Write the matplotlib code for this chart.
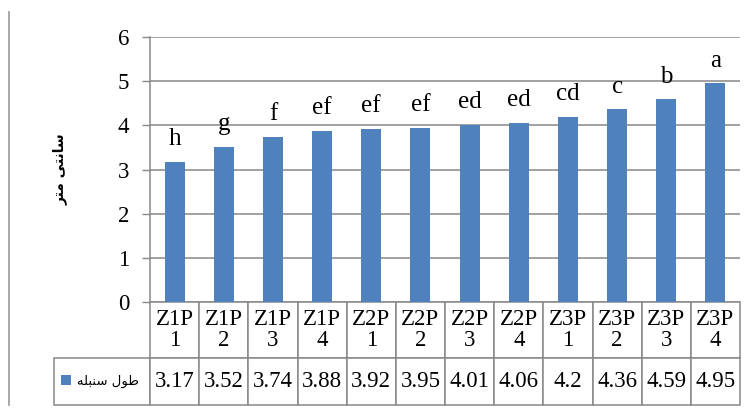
import matplotlib.pyplot as plt
from matplotlib.lines import Line2D
from matplotlib.patches import Patch

# data
categories = ['Z1P\n1', 'Z1P\n2', 'Z1P\n3', 'Z1P\n4', 'Z2P\n1', 'Z2P\n2',
              'Z2P\n3', 'Z2P\n4', 'Z3P\n1', 'Z3P\n2', 'Z3P\n3', 'Z3P\n4']
values = [3.17, 3.52, 3.74, 3.88, 3.92, 3.95, 4.01, 4.06, 4.2, 4.36, 4.59, 4.95]
letters = ['h', 'g', 'f', 'ef', 'ef', 'ef', 'ed', 'ed', 'cd', 'c', 'b', 'a']
yticks = [0, 1, 2, 3, 4, 5, 6]
# Persian text already shaped (presentation forms, visual order)
series_name = '\ufeea\ufee0\ufe92\ufee8\ufeb3 \ufedd\ufeee\ufec3'   # طول سنبله
y_label = '\ufeae\ufe98\ufee3 \ufef0\ufe98\ufee7\ufe8e\ufeb3'       # سانتی متر

bar_color = '#4F81BD'
line_color = '#888888'
serif = ['Liberation Serif', 'DejaVu Serif']

fig = plt.figure(figsize=(7.56, 4.12), dpi=100)
ax = fig.add_axes([150/756, 110/412, 590/756, 265/412])

x = range(len(values))
ax.bar(x, values, width=0.41, color=bar_color, zorder=3)
ax.set_xlim(-0.5, len(values) - 0.5)
ax.set_ylim(0, 6)
ax.set_yticks(yticks)
ax.set_yticklabels([str(t) for t in yticks], family=serif, fontsize=16.5)
ax.set_xticks([])
ax.tick_params(axis='y', length=6, width=1, color=line_color, pad=9)
ax.grid(axis='y', color=line_color, lw=1.1, zorder=0)
for s in ['top', 'right', 'bottom']:
    ax.spines[s].set_visible(False)
ax.spines['left'].set_color(line_color)
ax.spines['left'].set_linewidth(1.1)

for i, (v, l) in enumerate(zip(values, letters)):
    ax.annotate(l, (i, v), xytext=(0, 12), textcoords='offset points',
                ha='center', va='baseline', fontsize=18, family=serif)

ax.set_ylabel(y_label, family=['DejaVu Sans'], fontsize=10, fontweight='bold')
ax.yaxis.set_label_coords(-0.139, 0.5)

# data table under the axis
tbl = ax.table(cellText=[[f'{v:g}' for v in values]],
               colLabels=categories, cellLoc='center', colLoc='center',
               bbox=[0, -0.3887, 1, 0.3887])
tbl.add_cell(1, -1, 0.1627, 0.1774, text='')
tbl.auto_set_font_size(False)
for (r, c), cell in tbl.get_celld().items():
    cell.set_height(0.2113 if r == 0 else 0.1774)
    cell.set_width(0.1627 if c == -1 else 1 / 12)
    cell.set_edgecolor(line_color)
    cell.set_linewidth(1.1)
    cell.get_text().set_fontsize(16.5)
    cell.get_text().set_family(serif)
    cell.get_text().set_linespacing(1.0)

ax.legend(handles=[Patch(facecolor=bar_color)], labels=[series_name],
          loc='center left', bbox_to_anchor=(-0.151, -0.30), frameon=False,
          handlelength=0.8, handleheight=0.8, handletextpad=0.4,
          borderpad=0, borderaxespad=0,
          prop={'family': ['DejaVu Sans'], 'size': 9.5})

fig.add_artist(Line2D([9/756, 9/756], [1 - 12/412, 1 - 405/412],
                      color='#999999', lw=1.2))

fig.savefig('out.png', dpi=100)
